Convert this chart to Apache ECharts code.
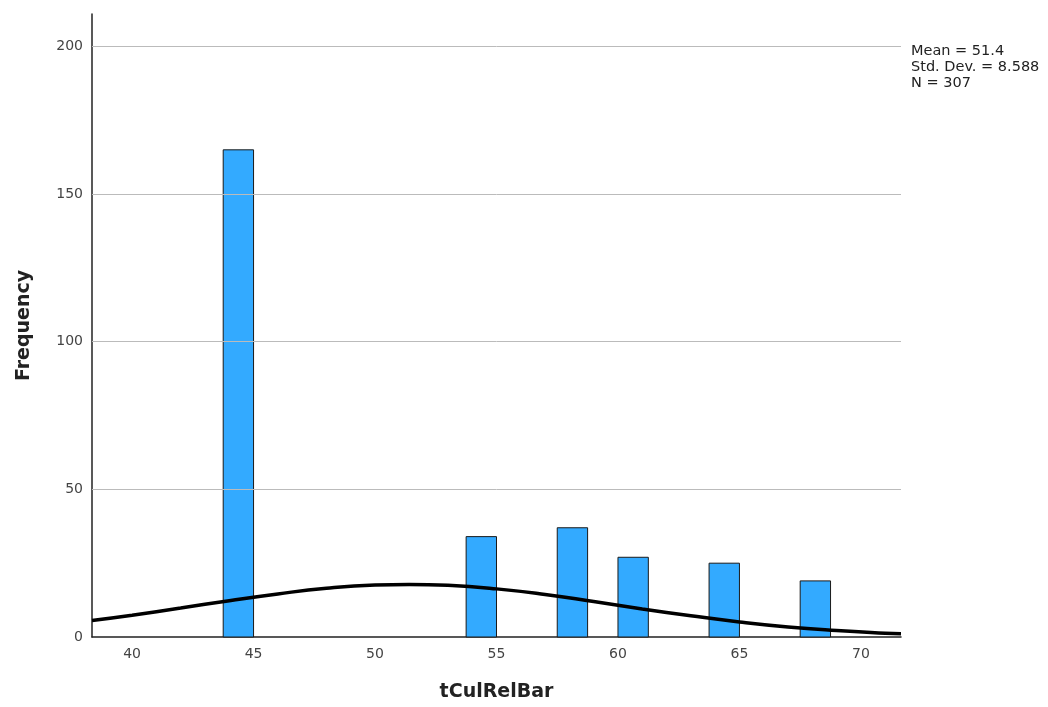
<!DOCTYPE html>
<html>
<head>
<meta charset="utf-8">
<script src="https://cdn.jsdelivr.net/npm/echarts@6/dist/echarts.min.js"></script>
<style>
html,body{margin:0;padding:0;background:#fff;}
#chart{width:1048px;height:707px;}
</style>
</head>
<body>
<div id="chart"></div>
<script>
// Histogram bins (tCulRelBar), bin width 1.25
const binStart = [43.75, 53.75, 57.5, 60.0, 63.75, 67.5];
const binEnd   = [45.0, 55.0, 58.75, 61.25, 65.0, 68.75];
const counts   = [165, 34, 37, 27, 25, 19];
// Normal curve
const curveX = [38.35, 40, 42, 44, 46, 48, 50, 51.4, 53, 55, 57, 59, 61, 63, 65, 67, 69, 71, 71.65];
const curveY = [5.6, 7.4, 9.8, 12.3, 14.6, 16.5, 17.6, 17.8, 17.5, 16.3, 14.4, 12.0, 9.5, 7.2, 5.1, 3.4, 2.2, 1.3, 1.1];
const xTicks = [40, 45, 50, 55, 60, 65, 70];
const yTicks = [0, 50, 100, 150, 200];
const gridValues = [50, 100, 150, 200];
const statsLines = ['Mean = 51.4', 'Std. Dev. = 8.588', 'N = 307'];

const chart = echarts.init(document.getElementById('chart'), null, {renderer: 'canvas'});
const barData = binStart.map((s, i) => [s, binEnd[i], counts[i]]);
const curveData = curveX.map((x, i) => [x, curveY[i]]);

chart.setOption({
  animation: false,
  backgroundColor: '#fff',
  grid: {left: 92, right: 147, top: 14, bottom: 70, containLabel: false},
  xAxis: {
    type: 'value', min: 38.35, max: 71.65,
    name: 'tCulRelBar', nameLocation: 'middle', nameGap: 46,
    nameTextStyle: {fontFamily: 'DejaVu Sans', fontWeight: 'bold', fontSize: 19, color: '#222'},
    axisLine: {show: true, lineStyle: {color: '#222', width: 1.5}},
    axisTick: {show: false},
    splitLine: {show: false},
    axisLabel: {customValues: xTicks, fontFamily: 'DejaVu Sans', fontSize: 14, color: '#444', margin: 10}
  },
  yAxis: {
    type: 'value', min: 0, max: 211,
    name: 'Frequency', nameLocation: 'middle', nameGap: 58, nameRotate: 90,
    nameTextStyle: {fontFamily: 'DejaVu Sans', fontWeight: 'bold', fontSize: 19, color: '#222'},
    axisLine: {show: true, lineStyle: {color: '#222', width: 1.5}},
    axisTick: {show: false},
    splitLine: {show: false},
    axisLabel: {customValues: yTicks, fontFamily: 'DejaVu Sans', fontSize: 14, color: '#444', margin: 9, padding: [6, 0, 0, 0]}
  },
  series: [
    {
      type: 'line', data: [], z: 1, silent: true,
      markLine: {
        silent: true, symbol: 'none', animation: false,
        label: {show: false},
        lineStyle: {color: '#bbbbbb', width: 1, type: 'solid'},
        data: gridValues.map(v => ({yAxis: v}))
      }
    },
    {
      type: 'custom', z: 2,
      data: barData,
      encode: {x: [0, 1], y: 2},
      renderItem: function (params, api) {
        const p0 = api.coord([api.value(0), api.value(2)]);
        const p1 = api.coord([api.value(1), 0]);
        return {
          type: 'rect',
          shape: {x: p0[0], y: p0[1], width: p1[0] - p0[0], height: p1[1] - p0[1]},
          style: {fill: '#33aaff', stroke: '#1a1a1a', lineWidth: 1}
        };
      }
    },
    {
      type: 'line', z: 3, data: curveData, smooth: true, showSymbol: false,
      lineStyle: {color: '#000', width: 3.5}
    }
  ],
  graphic: statsLines.map((t, i) => ({
    type: 'text', left: 911, top: 44 + i * 16,
    style: {text: t, font: '14.5px "DejaVu Sans"', fill: '#222'}
  }))
});
</script>
</body>
</html>
